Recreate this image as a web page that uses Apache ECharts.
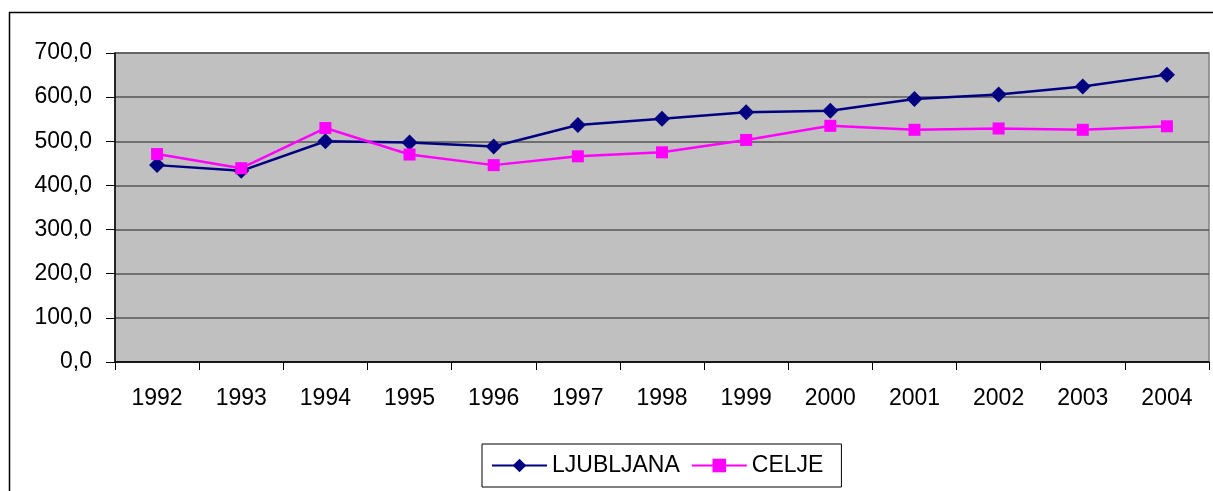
<!DOCTYPE html>
<html>
<head>
<meta charset="utf-8">
<script src="https://cdn.jsdelivr.net/npm/echarts@6/dist/echarts.min.js"></script>
<style>
  html, body { margin: 0; padding: 0; background: #fff; }
  #chart { width: 1213px; height: 491px; }
</style>
</head>
<body>
<div id="chart"></div>
<script>
// data
var years = ["1992", "1993", "1994", "1995", "1996", "1997", "1998",
             "1999", "2000", "2001", "2002", "2003", "2004"];
var ljubljana = [446, 433, 500, 497, 488, 537, 551, 566, 569, 596, 606, 624, 651];
var celje = [471, 439, 530, 470, 446, 466, 475, 503, 535, 526, 529, 526, 534];
var yTickLabels = ["0,0", "100,0", "200,0", "300,0", "400,0", "500,0", "600,0", "700,0"];

var myChart = echarts.init(document.getElementById("chart"));
var font = "Liberation Sans, Arial, sans-serif";

var option = {
  backgroundColor: "#ffffff",
  animation: false,
  textStyle: { fontFamily: font },
  graphic: [
    {
      type: "rect",
      shape: { x: 9.5, y: 12.5, width: 1300, height: 600 },
      style: { fill: "none", stroke: "#000", lineWidth: 1.5 },
      silent: true,
    },
  ],
  grid: {
    left: 115,
    right: 4,
    top: 53,
    bottom: 129,
    show: true,
    backgroundColor: "#c0c0c0",
    borderColor: "#808080",
    borderWidth: 1.5,
  },
  legend: {
    left: 482,
    top: 444,
    data: ["LJUBLJANA", "CELJE"],
    borderColor: "#000",
    borderWidth: 1,
    padding: [10, 18, 10, 9],
    itemGap: 11,
    itemWidth: 55,
    itemHeight: 17,
    textStyle: { fontFamily: font, fontSize: 23, color: "#000" },
  },
  xAxis: {
    type: "category",
    data: years,
    boundaryGap: true,
    axisLine: { lineStyle: { color: "#000", width: 1.5 } },
    axisTick: { show: true, interval: 0, length: 8, lineStyle: { color: "#000" } },
    axisLabel: { interval: 0, margin: 25, fontSize: 23, color: "#000", fontFamily: font },
    splitLine: { show: false },
  },
  yAxis: {
    type: "value",
    min: 0,
    max: 700,
    interval: 100,
    axisLine: { show: true, lineStyle: { color: "#000", width: 1.5 } },
    axisTick: { show: true, length: 9, lineStyle: { color: "#000" } },
    axisLabel: {
      margin: 23,
      fontSize: 23,
      color: "#000",
      fontFamily: font,
      formatter: function (v) {
        return yTickLabels[Math.round(v / 100)];
      },
    },
    splitLine: { show: true, lineStyle: { color: "#555", width: 1.5 } },
  },
  series: [
    {
      name: "LJUBLJANA",
      type: "line",
      data: ljubljana,
      symbol: "diamond",
      symbolSize: 16,
      showAllSymbol: true,
      lineStyle: { color: "#000080", width: 2.5 },
      itemStyle: { color: "#000080" },
    },
    {
      name: "CELJE",
      type: "line",
      data: celje,
      symbol: "rect",
      symbolSize: 12,
      showAllSymbol: true,
      lineStyle: { color: "#ff00ff", width: 2.5 },
      itemStyle: { color: "#ff00ff" },
    },
  ],
};

myChart.setOption(option);
</script>
</body>
</html>
